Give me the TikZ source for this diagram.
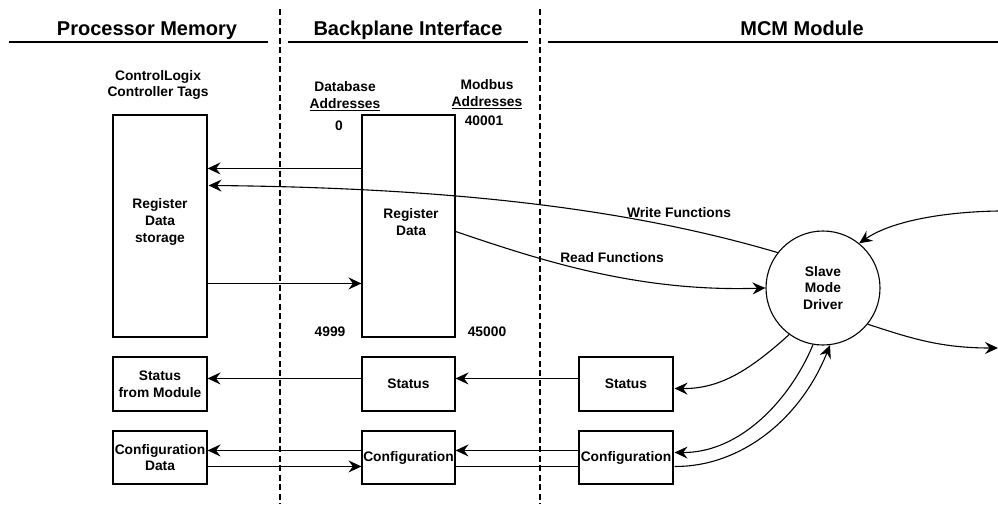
\documentclass[tikz,border=0pt]{standalone}
\usepackage{fontspec}
\setmainfont{Liberation Sans}
\usetikzlibrary{arrows.meta,calc}
\begin{document}
\begin{tikzpicture}[x=1pt,y=-1pt,
  lw/.style={line width=1.1pt},
  box/.style={draw,lw,inner sep=0pt,minimum width=94pt},
  small/.style={font=\fontsize{13.8}{16.8}\selectfont\bfseries,align=center,inner sep=0pt},
  title/.style={font=\fontsize{20}{24}\selectfont\bfseries,inner sep=0pt,anchor=base},
  arr/.style={lw,-{Stealth[length=13pt,width=12pt,inset=4.5pt]}},
  sep/.style={line width=1.6pt,dash pattern=on 6pt off 3.5pt},
  head/.style={line width=1.2pt}]
\useasboundingbox (0,0) rectangle (998,504);
% titles
\node[title] (t1) at (147,35) {Processor Memory};
\node[title] (t2) at (408,35) {Backplane Interface};
\node[title] (t3) at (802,35) {MCM Module};
\coordinate (h1a) at (9,42); \coordinate (h1b) at (268,42);
\coordinate (h2a) at (288,42); \coordinate (h2b) at (528,42);
\coordinate (h3a) at (548,42); \coordinate (h3b) at (998,42);
\draw[head] (h1a) -- (h1b);
\draw[head] (h2a) -- (h2b);
\draw[head] (h3a) -- (h3b);
% separators
\coordinate (d1a) at (280,9); \coordinate (d1b) at (280,504);
\coordinate (d2a) at (540,9); \coordinate (d2b) at (540,504);
\draw[sep] (d1a) -- (d1b);
\draw[sep] (d2a) -- (d2b);
% labels
\node[small] (clx) at (158,85) {ControlLogix\\Controller Tags};
\node[small] (dba) at (345,96) {Database\\\underline{Addresses}};
\node[small] (mba) at (487,94) {Modbus\\\underline{Addresses}};
\node[small] (a0) at (339,126) {0};
\node[small] (a1) at (484,121) {40001};
\node[small] (a2) at (330,332) {4999};
\node[small] (a3) at (487,332) {45000};
% boxes
\node[box,minimum height=222pt] (st) at (160,226) {};
\node[small] (stt) at (160,222) {Register\\Data\\storage};
\node[box,minimum width=93pt,minimum height=222pt] (rd) at (408.5,226) {};
\node[small] (rdt) at (411,222) {Register\\Data};
\node[box,minimum height=54pt,small] (ls) at (160,384) {Status\\from Module};
\node[box,minimum width=93pt,minimum height=54pt,small] (ms) at (408.5,384) {Status};
\node[box,minimum height=54pt,small] (rs) at (626,384) {Status};
\node[box,minimum height=53pt,small] (lc) at (160,457.5) {Configuration\\Data};
\node[box,minimum width=93pt,minimum height=53pt,small] (mc) at (408.5,457.5) {Configuration};
\node[box,minimum height=53pt,small] (rc) at (626,457.5) {Configuration};
\node[draw,lw,circle,minimum size=114pt,inner sep=0pt,small] (drv) at (823,288) {Slave\\Mode\\Driver};
\node[small] (wf) at (679,213) {Write Functions};
\node[small] (rf) at (612,258) {Read Functions};
% register arrows
\draw[arr] ($(rd.north west)+(0,54)$) -- ($(st.north east)+(0,54)$);
\draw[arr] ($(st.north east)+(0,169)$) -- ($(rd.north west)+(0,169)$);
\draw[arr] (drv.142) .. controls (640,212) and (470,188) .. ($(st.north east)+(1,71)$);
\draw[arr] ($(rd.north east)+(0,117)$) .. controls (545,262) and (640,292) .. (drv.west);
% right side
\coordinate (inR) at (998,211);
\coordinate (outR) at (998,348);
\draw[arr] (inR) .. controls (940,212) and (890,222) .. (drv.51);
\draw[arr] (drv.-39) .. controls (910,338) and (940,348) .. (outR);
% status
\draw[arr] ($(rs.north west)+(0,22)$) -- ($(ms.north east)+(0,22)$);
\draw[arr] ($(ms.north west)+(0,22)$) -- ($(ls.north east)+(0,22)$);
\draw[arr] (drv.-126) .. controls (750,370) and (720,389) .. ($(rs.north east)+(1,32)$);
% configuration
\draw[arr] ($(mc.north west)+(0,20)$) -- ($(lc.north east)+(0,20)$);
\draw[arr] ($(lc.north east)+(0,36)$) -- ($(mc.north west)+(0,36)$);
\draw[arr] ($(rc.north west)+(0,20)$) -- ($(mc.north east)+(0,20)$);
\draw[lw] ($(mc.north east)+(0,36)$) -- ($(rc.north west)+(0,36)$);
\draw[arr] (drv.-100) .. controls (790,400) and (740,453) .. ($(rc.north east)+(1,22)$);
\draw[arr] ($(rc.north east)+(1,36)$) .. controls (740,467) and (800,420) .. (drv.-83);
\end{tikzpicture}
\end{document}
